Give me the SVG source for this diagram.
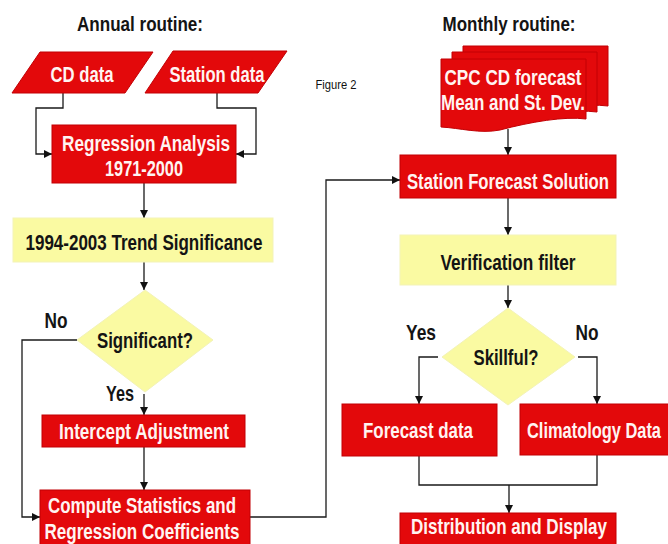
<svg xmlns="http://www.w3.org/2000/svg" width="668" height="544" viewBox="0 0 668 544">
<style>
.red{fill:#e3090b;stroke:#c20004;stroke-width:1}
.yel{fill:#fafaa2;stroke:#f3f3b8;stroke-width:1}
.t{font-family:"Liberation Sans",Arial,sans-serif;font-weight:bold;text-anchor:middle}
.w{fill:#fff4f2;font-size:22px}
.k{fill:#141414;font-size:22px}
.h{fill:#141414;font-size:21px}
.c{fill:none;stroke:#1a1a1a;stroke-width:1.3}
</style>
<defs>
<marker id="ah" markerUnits="userSpaceOnUse" markerWidth="9" markerHeight="8" refX="8" refY="4" orient="auto">
<path d="M0,0 L8,4 L0,8 Z" fill="#111"/>
</marker>
<path id="doc" d="M441,59 H586 V119 C565,116 530,122 500,130 C480,134 460,128 441,127 Z"/>
</defs>
<rect width="668" height="544" fill="#fff"/>

<text class="t h" x="140" y="31" textLength="126" lengthAdjust="spacingAndGlyphs">Annual routine:</text>
<text class="t h" x="509" y="31" textLength="133" lengthAdjust="spacingAndGlyphs">Monthly routine:</text>
<text class="t" x="336" y="89" style="font-weight:normal;font-size:12px;fill:#111" textLength="41" lengthAdjust="spacingAndGlyphs">Figure 2</text>

<g id="connectors">
<path class="c" d="M63,93 V108 H36 V154 H52" marker-end="url(#ah)"/>
<path class="c" d="M217,93 V108 H256 V154 H236" marker-end="url(#ah)"/>
<path class="c" d="M144,183 V218" marker-end="url(#ah)"/>
<path class="c" d="M144,262 V290" marker-end="url(#ah)"/>
<path class="c" d="M77,340 H22 V517 H40" marker-end="url(#ah)"/>
<path class="c" d="M144,394 V415" marker-end="url(#ah)"/>
<path class="c" d="M144,447 V490" marker-end="url(#ah)"/>
<path class="c" d="M250,517 H326 V180 H400" marker-end="url(#ah)"/>
<path class="c" d="M508,129 V155" marker-end="url(#ah)"/>
<path class="c" d="M508,198 V235" marker-end="url(#ah)"/>
<path class="c" d="M508,285 V308" marker-end="url(#ah)"/>
<path class="c" d="M438,357 H419 V404" marker-end="url(#ah)"/>
<path class="c" d="M578,357 H597 V404" marker-end="url(#ah)"/>
<path class="c" d="M419,456 V485 H597 V455"/>
<path class="c" d="M509,485 V513" marker-end="url(#ah)"/>
</g>

<g id="cd-data">
<path class="red" d="M40,52 H153 L125,93 H12 Z"/>
<text class="t w" x="82" y="82" textLength="63" lengthAdjust="spacingAndGlyphs">CD data</text>
</g>
<g id="station-data">
<path class="red" d="M173,51 H287 L258,93 H145 Z"/>
<text class="t w" x="217" y="82" textLength="95" lengthAdjust="spacingAndGlyphs">Station data</text>
</g>
<g id="regression">
<rect class="red" x="52" y="125" width="184" height="58"/>
<text class="t w" x="146" y="151" textLength="168" lengthAdjust="spacingAndGlyphs">Regression Analysis</text>
<text class="t w" x="144" y="176" textLength="78" lengthAdjust="spacingAndGlyphs">1971-2000</text>
</g>
<g id="trend">
<rect class="yel" x="13" y="218" width="260" height="44"/>
<text class="t k" x="144" y="250" textLength="237" lengthAdjust="spacingAndGlyphs">1994-2003 Trend Significance</text>
</g>
<g id="significant">
<path class="yel" d="M145,290 L213,340 L145,392 L77,340 Z"/>
<text class="t k" x="145" y="348" textLength="96" lengthAdjust="spacingAndGlyphs">Significant?</text>
<text class="t k" x="56" y="328" textLength="23" lengthAdjust="spacingAndGlyphs">No</text>
<text class="t k" x="120" y="401" textLength="28" lengthAdjust="spacingAndGlyphs">Yes</text>
</g>
<g id="intercept">
<rect class="red" x="42" y="415" width="203" height="32"/>
<text class="t w" x="144" y="439" textLength="170" lengthAdjust="spacingAndGlyphs">Intercept Adjustment</text>
</g>
<g id="compute">
<rect class="red" x="40" y="490" width="210" height="58"/>
<text class="t w" x="142" y="513" textLength="188" lengthAdjust="spacingAndGlyphs">Compute Statistics and</text>
<text class="t w" x="142" y="539" textLength="195" lengthAdjust="spacingAndGlyphs">Regression Coefficients</text>
</g>

<g id="cpc-forecast">
<use href="#doc" class="red" transform="translate(22,-13)"/>
<use href="#doc" class="red" transform="translate(11,-7)"/>
<use href="#doc" class="red"/>
<text class="t w" x="513" y="85" textLength="137" lengthAdjust="spacingAndGlyphs">CPC CD forecast</text>
<text class="t w" x="513" y="110" textLength="144" lengthAdjust="spacingAndGlyphs">Mean and St. Dev.</text>
</g>
<g id="station-forecast">
<rect class="red" x="400" y="155" width="216" height="43"/>
<text class="t w" x="508" y="189" textLength="202" lengthAdjust="spacingAndGlyphs">Station Forecast Solution</text>
</g>
<g id="verification">
<rect class="yel" x="400" y="235" width="216" height="50"/>
<text class="t k" x="508" y="270" textLength="135" lengthAdjust="spacingAndGlyphs">Verification filter</text>
</g>
<g id="skillful">
<path class="yel" d="M508,308 L575,357 L508,405 L442,357 Z"/>
<text class="t k" x="506" y="365" textLength="65" lengthAdjust="spacingAndGlyphs">Skillful?</text>
<text class="t k" x="421" y="340" textLength="30" lengthAdjust="spacingAndGlyphs">Yes</text>
<text class="t k" x="587" y="340" textLength="23" lengthAdjust="spacingAndGlyphs">No</text>
</g>
<g id="forecast-data">
<rect class="red" x="342" y="404" width="155" height="52"/>
<text class="t w" x="418" y="438" textLength="110" lengthAdjust="spacingAndGlyphs">Forecast data</text>
</g>
<g id="climatology">
<rect class="red" x="520" y="404" width="152" height="51"/>
<text class="t w" x="594" y="438" textLength="134" lengthAdjust="spacingAndGlyphs">Climatology Data</text>
</g>
<g id="distribution">
<rect class="red" x="400" y="513" width="216" height="35"/>
<text class="t w" x="509" y="534" textLength="196" lengthAdjust="spacingAndGlyphs">Distribution and Display</text>
</g>
</svg>
